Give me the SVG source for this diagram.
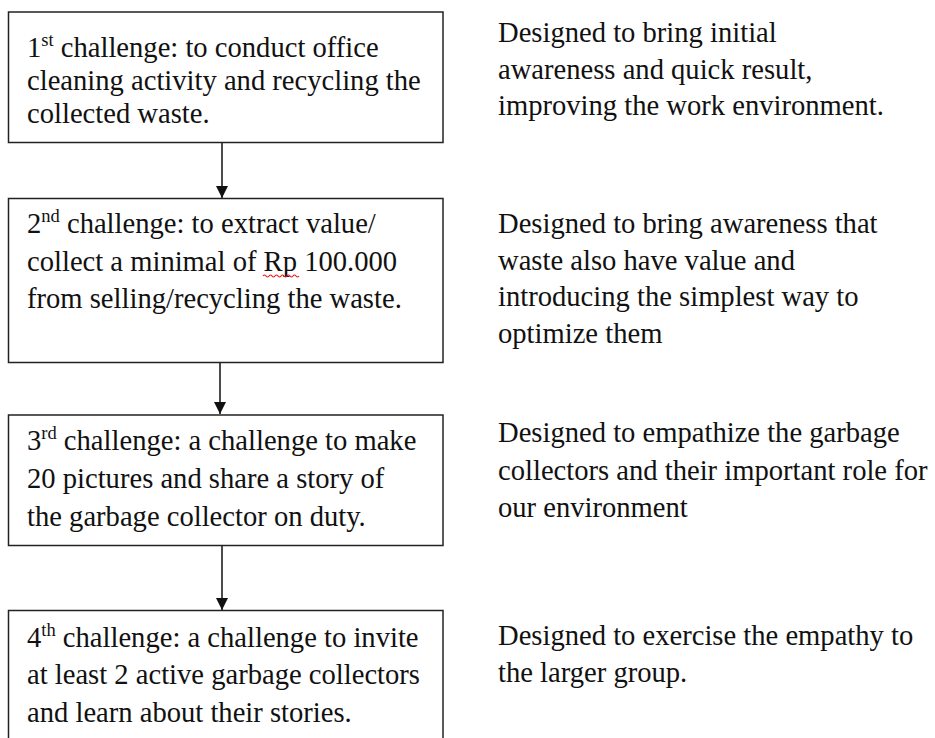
<svg xmlns="http://www.w3.org/2000/svg" width="935" height="738" viewBox="0 0 935 738">
<style>
text{font-family:'Liberation Serif',Tinos,'Times New Roman',Times,serif;font-size:28.6px;fill:#111}
.sup{font-size:18.5px}
.box{fill:#fff;stroke:#222;stroke-width:1.5}
.conn{stroke:#111;stroke-width:1.5;fill:none}
</style>
<defs>
<marker id="ah" markerWidth="13" markerHeight="12" refX="12" refY="6" orient="auto" markerUnits="userSpaceOnUse">
<path d="M0,0 L12,6 L0,12 Z" fill="#111"/>
</marker>
</defs>
<rect width="935" height="738" fill="#fff"/>
<g id="connectors">
<line class="conn" x1="222" y1="143" x2="222" y2="198" marker-end="url(#ah)"/>
<line class="conn" x1="220" y1="363" x2="220" y2="414" marker-end="url(#ah)"/>
<line class="conn" x1="222" y1="546" x2="222" y2="610" marker-end="url(#ah)"/>
</g>
<g id="node1">
<rect class="box" x="8.5" y="12" width="434.5" height="130.5"/>
<text x="27" y="56.5" font-family="Liberation Serif">1<tspan class="sup" dy="-11">st</tspan><tspan dy="11"> challenge: to conduct office</tspan></text>
<text x="27" y="90">cleaning activity and recycling the</text>
<text x="27" y="123">collected waste.</text>
</g>
<g id="node2">
<rect class="box" x="8.5" y="198.5" width="434.5" height="164"/>
<text x="27" y="233">2<tspan class="sup" dy="-11">nd</tspan><tspan dy="11"> challenge: to extract value/</tspan></text>
<text x="27" y="271">collect a minimal of Rp 100.000</text>
<text x="27" y="308">from selling/recycling the waste.</text>
<path d="M263,276 q1.5,-2 3,0 t3,0 t3,0 t3,0 t3,0 t3,0 t3,0 t3,0 t3,0 t3,0 t3,0 t3,0" fill="none" stroke="#e02020" stroke-width="1.2"/>
</g>
<g id="node3">
<rect class="box" x="8.5" y="415" width="434.5" height="130.5"/>
<text x="27" y="450">3<tspan class="sup" dy="-11">rd</tspan><tspan dy="11"> challenge: a challenge to make</tspan></text>
<text x="27" y="488">20 pictures and share a story of</text>
<text x="27" y="526">the garbage collector on duty.</text>
</g>
<g id="node4">
<rect class="box" x="8.5" y="610.5" width="434.5" height="140"/>
<text x="27" y="647">4<tspan class="sup" dy="-11">th</tspan><tspan dy="11"> challenge: a challenge to invite</tspan></text>
<text x="27" y="684">at least 2 active garbage collectors</text>
<text x="27" y="722">and learn about their stories.</text>
</g>
<g id="desc1">
<text x="498" y="42">Designed to bring initial</text>
<text x="498" y="79">awareness and quick result,</text>
<text x="498" y="115">improving the work environment.</text>
</g>
<g id="desc2">
<text x="498" y="233">Designed to bring awareness that</text>
<text x="498" y="270">waste also have value and</text>
<text x="498" y="306">introducing the simplest way to</text>
<text x="498" y="343">optimize them</text>
</g>
<g id="desc3">
<text x="498" y="442">Designed to empathize the garbage</text>
<text x="498" y="480">collectors and their important role for</text>
<text x="498" y="517">our environment</text>
</g>
<g id="desc4">
<text x="498" y="645">Designed to exercise the empathy to</text>
<text x="498" y="682">the larger group.</text>
</g>
</svg>
